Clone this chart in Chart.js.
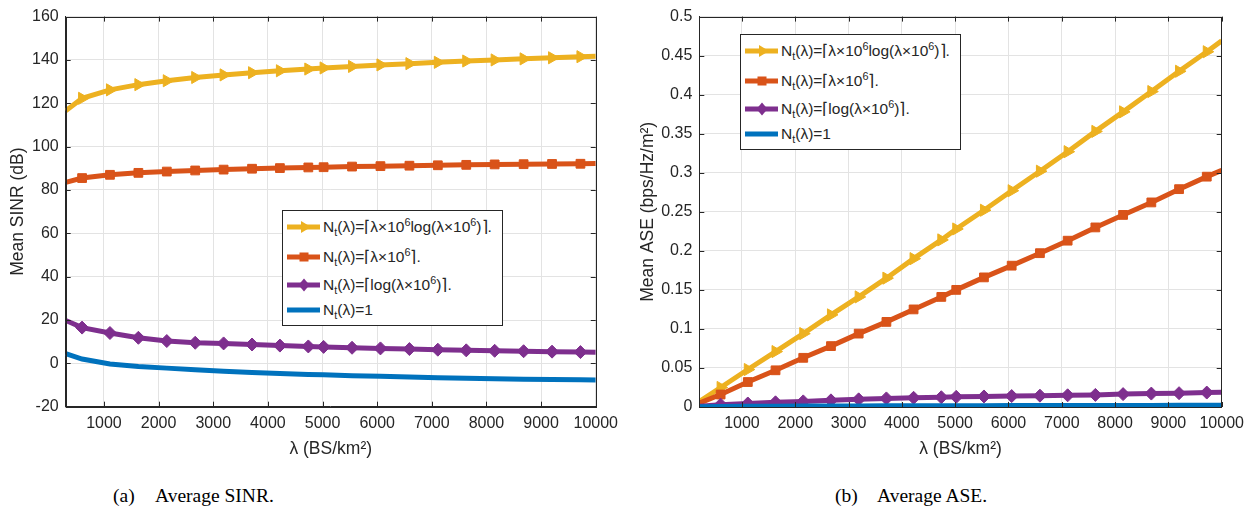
<!DOCTYPE html>
<html><head><meta charset="utf-8">
<script src="https://cdn.jsdelivr.net/npm/chart.js@4.4.1/dist/chart.umd.min.js"></script>
<style>
body{margin:0;background:#fff;}
#wrap{position:relative;width:1255px;height:515px;background:#fff;overflow:hidden;font-family:'Liberation Sans',Arial,Helvetica,sans-serif;color:#262626;}
canvas{position:absolute;top:0;}
.legend{position:absolute;border:1px solid #262626;background:#fff;box-sizing:border-box;}
.row{position:absolute;left:0;height:20px;line-height:20px;white-space:nowrap;font-size:15.5px;}
.row svg{position:absolute;left:4px;top:0;}
.row .t{position:absolute;left:40px;top:0;}
sub,sup{font-size:70%;line-height:0;}
.cap{position:absolute;top:485px;font-family:'Liberation Serif','Times New Roman',serif;font-size:19.5px;color:#000;white-space:nowrap;}
</style></head>
<body><div id="wrap">
<canvas id="c1" width="625" height="470" style="left:0;width:625px;height:470px"></canvas>
<canvas id="c2" width="630" height="470" style="left:625px;width:630px;height:470px"></canvas>
<div id="lg1" class="legend" style="left:282px;top:210px;width:221px;height:116px"></div>
<div id="lg2" class="legend" style="left:740px;top:34px;width:221px;height:116px"></div>
<div class="cap" style="left:113px">(a)</div><div class="cap" style="left:155px">Average SINR.</div>
<div class="cap" style="left:835px">(b)</div><div class="cap" style="left:877px">Average ASE.</div>
</div>
<script>
// ---- data ----
const lambdaSINR = [300, 600, 1110, 1630, 2150, 2670, 3190, 3710, 4220, 4740, 5020, 5540, 6060, 6590, 7110, 7630, 8150, 8680, 9200, 9720, 10000];
const lambdaASE  = [200, 600, 1110, 1630, 2150, 2670, 3190, 3710, 4220, 4740, 5020, 5540, 6060, 6590, 7110, 7630, 8150, 8680, 9200, 9720, 10000];

const sinrYellow = [116.5, 122.3, 126.2, 128.6, 130.4, 131.9, 133.1, 134.1, 135.0, 135.8, 136.3, 137.0, 137.7, 138.3, 138.9, 139.5, 140.0, 140.5, 141.0, 141.5, 141.7];
const sinrOrange = [83.5, 85.5, 87.0, 87.9, 88.5, 89.0, 89.4, 89.8, 90.1, 90.4, 90.5, 90.8, 91.0, 91.2, 91.4, 91.6, 91.8, 91.9, 92.0, 92.1, 92.2];
const sinrPurple = [19.8, 16.5, 14.0, 11.8, 10.3, 9.5, 9.2, 8.7, 8.2, 7.8, 7.6, 7.2, 6.9, 6.6, 6.3, 6.0, 5.8, 5.6, 5.4, 5.2, 5.1];
const sinrBlue   = [4.5, 2.0, -0.3, -1.4, -2.2, -3.0, -3.6, -4.2, -4.7, -5.1, -5.3, -5.7, -6.0, -6.3, -6.6, -6.9, -7.1, -7.3, -7.5, -7.6, -7.7];

const aseYellow = [0.007, 0.025, 0.048, 0.071, 0.094, 0.118, 0.141, 0.165, 0.190, 0.214, 0.228, 0.252, 0.277, 0.302, 0.327, 0.353, 0.378, 0.404, 0.430, 0.455, 0.469];
const aseOrange = [0.005, 0.016, 0.032, 0.047, 0.063, 0.078, 0.094, 0.109, 0.125, 0.141, 0.150, 0.166, 0.181, 0.197, 0.213, 0.230, 0.246, 0.262, 0.279, 0.295, 0.303];
const asePurple = [0.001, 0.003, 0.0045, 0.006, 0.0072, 0.0085, 0.0098, 0.011, 0.0118, 0.0125, 0.013, 0.0135, 0.014, 0.0145, 0.015, 0.0155, 0.0165, 0.0172, 0.0177, 0.0185, 0.0188];
const aseBlue   = [0.0002, 0.0006, 0.0009, 0.0011, 0.0012, 0.0013, 0.0014, 0.0015, 0.0016, 0.0016, 0.0017, 0.0017, 0.0018, 0.0018, 0.0019, 0.0019, 0.002, 0.002, 0.0021, 0.0021, 0.0022];

const xTicks = [1000, 2000, 3000, 4000, 5000, 6000, 7000, 8000, 9000, 10000];
const yTicksSINR = [-20, 0, 20, 40, 60, 80, 100, 120, 140, 160];
const yTicksASE = [0, 0.05, 0.1, 0.15, 0.2, 0.25, 0.3, 0.35, 0.4, 0.45, 0.5];
const yTickLabelsASE = ['0', '0.05', '0.1', '0.15', '0.2', '0.25', '0.3', '0.35', '0.4', '0.45', '0.5'];

const seriesNames = ['N<sub>t</sub>(\u03BB)=\u2308\u03BB\u00D710<sup>6</sup>log(\u03BB\u00D710<sup>6</sup>)\u2309.',
                     'N<sub>t</sub>(\u03BB)=\u2308\u03BB\u00D710<sup>6</sup>\u2309.',
                     'N<sub>t</sub>(\u03BB)=\u2308log(\u03BB\u00D710<sup>6</sup>)\u2309.',
                     'N<sub>t</sub>(\u03BB)=1'];
// ---- styles ----
const COLORS = ['#EDB120', '#D95319', '#7E2F8E', '#0072BD'];
const MARKERS = ['triangle', 'rect', 'rectRot', false];
const ROT = [90, 0, 0, 0];
const RAD = [7, 6.2, 6.5, 0];

Chart.defaults.font.family = "'Liberation Sans', Arial, Helvetica, sans-serif";
Chart.defaults.color = '#262626';

const boxPlugin = {
  id: 'box',
  afterDraw(chart) {
    const {ctx, chartArea: a, scales: {x, y}} = chart;
    ctx.save();
    ctx.strokeStyle = '#262626';
    ctx.lineWidth = 1;
    ctx.beginPath();
    x.ticks.forEach(t => {
      const px = Math.round(x.getPixelForValue(t.value)) + 0.5;
      ctx.moveTo(px, a.bottom); ctx.lineTo(px, a.bottom - 5);
      ctx.moveTo(px, a.top); ctx.lineTo(px, a.top + 5);
    });
    y.ticks.forEach(t => {
      const py = Math.round(y.getPixelForValue(t.value)) + 0.5;
      ctx.moveTo(a.left, py); ctx.lineTo(a.left + 5, py);
      ctx.moveTo(a.right, py); ctx.lineTo(a.right - 5, py);
    });
    ctx.stroke();
    ctx.strokeRect(Math.round(a.left) + 0.5, Math.round(a.top) + 0.5, Math.round(a.right - a.left), Math.round(a.bottom - a.top));
    ctx.restore();
  }
};

function makeDatasets(lams, series) {
  return series.map((vals, i) => ({
    data: lams.map((l, k) => ({x: l, y: vals[k]})),
    borderColor: COLORS[i],
    backgroundColor: COLORS[i],
    borderWidth: 5,
    pointStyle: MARKERS[i] || 'circle',
    pointRotation: ROT[i],
    pointRadius: ctx => (!MARKERS[i] || ctx.dataIndex === 0 || ctx.dataIndex === lams.length - 1) ? 0 : RAD[i],
    pointBorderWidth: 1,
    pointBorderColor: COLORS[i],
    pointBackgroundColor: COLORS[i],
    tension: 0,
    order: 4 - i
  }));
}

function makeChart(id, lams, series, xmin, ymin, ymax, yTicks, yLabelFn, yTitle, cfg) {
  return new Chart(document.getElementById(id), {
    type: 'line',
    data: {datasets: makeDatasets(lams, series)},
    plugins: [boxPlugin],
    options: {
      responsive: false, animation: false, events: [],
      layout: {padding: {left: 0, top: cfg.top, right: cfg.right, bottom: 0}},
      plugins: {legend: {display: false}, tooltip: {enabled: false}},
      scales: {
        x: {
          type: 'linear', min: xmin, max: 10000,
          afterBuildTicks: s => { s.ticks = xTicks.map(v => ({value: v})); },
          afterFit: s => { s.height = cfg.xh; },
          ticks: {callback: v => String(v), font: {size: 16}, padding: 7, maxRotation: 0, autoSkip: false, color: '#262626'},
          grid: {color: '#e3e3e3', drawTicks: false, lineWidth: 1},
          border: {display: true, color: '#262626'},
          title: {display: true, text: '\u03BB (BS/km\u00B2)', font: {size: 17.5}, padding: {top: 0, bottom: 10}, color: '#262626'}
        },
        y: {
          type: 'linear', min: ymin, max: ymax,
          afterBuildTicks: s => { s.ticks = yTicks.map(v => ({value: v})); },
          afterFit: s => { s.width = cfg.yw; },
          ticks: {callback: yLabelFn, font: {size: 16}, padding: 7, autoSkip: false, color: '#262626'},
          grid: {color: '#e3e3e3', drawTicks: false, lineWidth: 1},
          border: {display: true, color: '#262626'},
          title: {display: true, text: yTitle, font: {size: 17.5}, padding: {top: cfg.ytp, bottom: 0}, color: '#262626'}
        }
      }
    }
  });
}

makeChart('c1', lambdaSINR, [sinrYellow, sinrOrange, sinrPurple, sinrBlue], 300, -20, 160, yTicksSINR,
  v => String(v), 'Mean SINR (dB)', {top: 11, right: 26.7, xh: 63.3, yw: 65.7, ytp: 8});
makeChart('c2', lambdaASE, [aseYellow, aseOrange, asePurple, aseBlue], 200, 0, 0.5, yTicksASE,
  (v, i) => yTickLabelsASE[i], 'Mean ASE (bps/Hz/m\u00B2)', {top: 11, right: 33.3, xh: 63, yw: 74.3, ytp: 13});

// ---- HTML legends ----
function sampleSVG(i) {
  const c = COLORS[i];
  let m = '';
  if (MARKERS[i] === 'triangle') m = `<polygon points="24,10 14,4 14,16" fill="${c}"/>`;
  else if (MARKERS[i] === 'rect') m = `<rect x="12.5" y="5.5" width="9" height="9" fill="${c}"/>`;
  else if (MARKERS[i] === 'rectRot') m = `<polygon points="17,3.5 22.5,10 17,16.5 11.5,10" fill="${c}"/>`;
  return `<svg width="34" height="20"><line x1="0" y1="10" x2="33" y2="10" stroke="${c}" stroke-width="5"/>${m}</svg>`;
}
const rowTops = [6, 35.5, 64, 89];
['lg1', 'lg2'].forEach(id => {
  const el = document.getElementById(id);
  el.innerHTML = seriesNames.map((n, i) =>
    `<div class="row" style="top:${rowTops[i]}px;width:100%">${sampleSVG(i)}<span class="t">${n}</span></div>`).join('');
});
</script>
</body></html>
